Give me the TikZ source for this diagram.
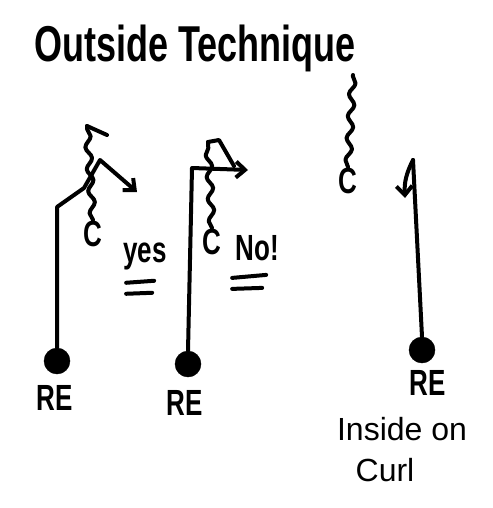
\documentclass[tikz,border=0pt]{standalone}
\usepackage{fontspec}
\setmainfont{Liberation Sans}
\usetikzlibrary{positioning, arrows.meta, decorations.pathmorphing, calc}

\newcommand{\tall}[1]{\scalebox{1}[1.4]{#1}}

\begin{document}
\begin{tikzpicture}[
    x=1pt, y=-1pt,
    node distance=4pt,
    player/.style={circle, draw, fill=black, minimum size=26pt, inner sep=0pt},
    tag/.style={font=\fontsize{26}{28}\selectfont\bfseries, inner sep=1pt},
    note/.style={font=\fontsize{32}{34}\selectfont, inner sep=1pt},
    route/.style={draw, line width=4pt, line cap=round, line join=round},
    wiggle/.style={route, decorate, decoration={snake, amplitude=3pt, segment length=22pt}},
    tip/.style={-{Straight Barb[length=9pt, width=16pt, line width=4pt]}}
]
\useasboundingbox (0,0) rectangle (492,508);

\node [font=\fontsize{36}{40}\selectfont\bfseries] (title) at (195,48) {\tall{Outside Technique}};

% left play
\node [player] (re1) at (57,361) {};
\node [tag] (re1lbl) at (55,398) {\tall{RE}};
\node [tag] (c1) at (93,234) {\tall{C}};
\node [tag] (yes) at (145,256) {\tall{yes}};
\coordinate (re1end) at (137,192);
\coordinate (c1top) at (87,126);

\path [route, tip] (re1.north) -- (57,207) -- (84,188) -- (100,160) -- (re1end);
\path [wiggle] (c1.north) -- (c1top);
\path [route] (c1top) -- ++(20,9);
\path [route] ($(yes.south west)+(4,12)$) -- ++(28,-2);
\path [route] ($(yes.south west)+(4,23)$) -- ++(26,-1);

% middle play
\node [player] (re2) at (188,364) {};
\node [tag] (re2lbl) at (185,403) {\tall{RE}};
\node [tag] (c2) at (212,242) {\tall{C}};
\node [tag] (no) at (257,248) {\tall{No!}};
\coordinate (re2end) at (248,170);
\coordinate (c2top) at (208,142);

\path [route, tip] (re2.north) -- (192,168) -- (re2end);
\path [wiggle] (c2.north) -- (c2top);
\path [route] (c2top) -- (219,140) -- (234,166);
\path [route] ($(no.south west)+(-2,16)$) -- ++(34,-3);
\path [route] ($(no.south west)+(-2,27)$) -- ++(30,-1);

% right play
\node [player] (re3) at (422,350) {};
\node [tag] (re3lbl) at (428,383) {\tall{RE}};
\node [note] (inside) at (402,429) {Inside on};
\node [note] (curl) at (385,470) {Curl};
\node [tag] (c3) at (348,181) {\tall{C}};
\coordinate (re3top) at (413,160);
\coordinate (re3end) at (405,198);
\coordinate (c3top) at (353,75);

\path [route] (re3.north) -- (re3top);
\path [route, tip] (re3top) to[bend right=15] (re3end);
\path [wiggle] (c3.north) -- (c3top);

\end{tikzpicture}
\end{document}
